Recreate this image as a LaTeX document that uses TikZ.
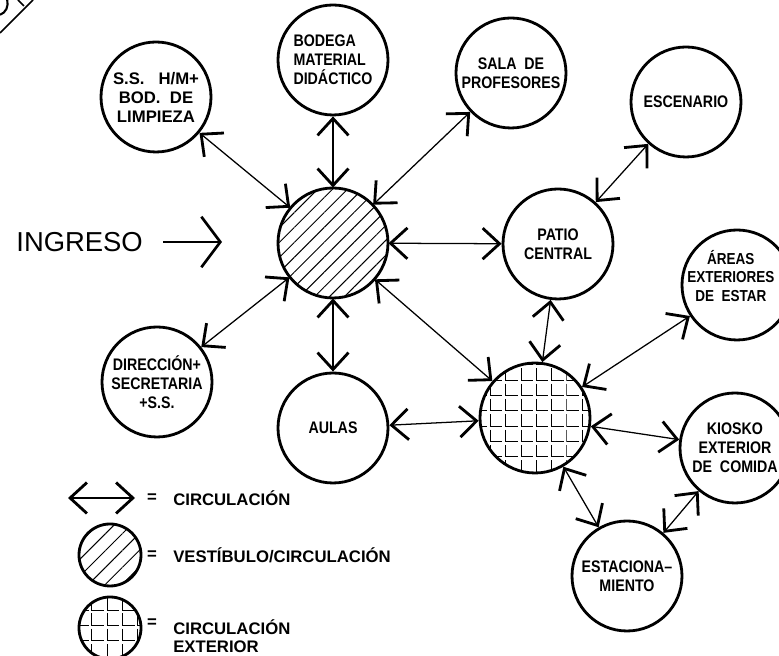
\documentclass[tikz,border=0pt]{standalone}
\usepackage{fontspec}
\setmainfont{Liberation Sans}
\newfontfamily\narrowsans[FakeStretch=0.85]{Liberation Sans}
\usetikzlibrary{arrows.meta, patterns.meta}

\tikzdeclarepattern{
  name=ell grid,
  type=uncolored,
  bottom left={(-0.5pt,-0.5pt)},
  top right={(10.4pt,10.4pt)},
  tile size={(10.9pt,10.9pt)},
  code={
    \path [draw, line width=0.7pt] (0pt,8.5pt) -- (0pt,0pt) -- (8.5pt,0pt);
  }
}

\tikzset{
  chev/.tip = {Straight Barb[length=12pt, width=22pt, line width=2pt]},
  bigchev/.tip = {Straight Barb[length=13.5pt, width=36pt, line width=1.9pt]},
  room/.style = {
    circle, draw=black, line width=2pt, minimum size=2.75cm,
    inner sep=0pt, align=center,
    font=\narrowsans\bfseries\fontsize{11.9}{13.5}\selectfont
  },
  lobby/.style = {
    room, pattern={Lines[angle=45, distance=7.5pt, line width=0.7pt]}
  },
  yard/.style = { room, pattern=ell grid },
  flow/.style = { draw=black, line width=0.9pt, arrows={chev-chev} },
  entry/.style = { draw=black, line width=0.9pt, arrows={-bigchev} },
  keysign/.style = { font=\bfseries\fontsize{11.9}{13}\selectfont, inner sep=0pt },
  keytext/.style = {
    anchor=west, align=left, inner sep=0pt,
    font=\bfseries\fontsize{11.9}{13}\selectfont
  }
}

\begin{document}
\begin{tikzpicture}

    \useasboundingbox (0,0) rectangle (19.475,16.4);

    % ---------------------------------------------------------------- Spaces
    \node [room, font=\bfseries\fontsize{11.9}{13.5}\selectfont] (ss) at (3.9, 13.975) {S.S.\ \ \ H/M+\\BOD.\ \ DE\\LIMPIEZA};
    \node [room, align=left] (bodega) at (8.325, 14.9) {BODEGA\\MATERIAL\\DIDÁCTICO};
    \node [room] (sala)      at (12.775, 14.575) {SALA\ \ DE\\PROFESORES};
    \node [room] (escenario) at (17.15,  13.85) {ESCENARIO};
    \node [room] (patio)     at (13.95,  10.3)  {PATIO\\CENTRAL};
    \node [room] (areas)     at (18.425, 9.275) {};
    \node [align=center, inner sep=0pt,
           font=\narrowsans\bfseries\fontsize{11.3}{13}\selectfont] (areas_txt) at (18.27, 9.5) {ÁREAS\\EXTERIORES\\DE\ \ ESTAR};
    \node [room] (direccion) at (3.925,  6.85)  {DIRECCIÓN+\\SECRETARIA\\+S.S.};
    \node [room] (aulas)     at (8.325,  5.7)   {AULAS};
    \node [room] (kiosko)    at (18.375, 5.2)   {KIOSKO\\EXTERIOR\\DE\ \ COMIDA};
    \node [room] (estac)     at (15.675, 2.0)   {ESTACIONA–\\MIENTO};

    % ------------------------------------------------------------ Circulation
    \node [lobby] (vest) at (8.325,  10.325) {};
    \node [yard]  (ext)  at (13.375, 5.95)   {};

    % --------------------------------------------------------------- Entrance
    \node [inner sep=0pt, font=\fontsize{19.5}{20}\selectfont] (ingreso) at (1.99, 10.35) {INGRESO};
    \coordinate (door) at (5.55, 10.35);
    \draw [entry, shorten <=0.5cm] (ingreso.east) -- (door);

    % -------------------------------------------------------------- Links
    \draw [flow] (vest) -- (ss);
    \draw [flow] (vest) -- (bodega);
    \draw [flow] (vest) -- (sala);
    \draw [flow] (vest) -- (patio);
    \draw [flow] (vest) -- (direccion);
    \draw [flow] (vest) -- (aulas);
    \draw [flow] (vest) -- (ext);
    \draw [flow] (patio) -- (escenario);
    \draw [flow] (patio) -- (ext);
    \draw [flow] (ext) -- (areas);
    \draw [flow] (ext) -- (aulas);
    \draw [flow] (ext) -- (kiosko);
    \draw [flow] (ext) -- (estac);
    \draw [flow] (kiosko) -- (estac);

    % ------------------------------------------------------------- Legend
    \coordinate (key_a) at (1.7,   3.95);
    \coordinate (key_b) at (3.375, 3.95);
    \draw [flow] (key_a) -- (key_b);
    \node [keysign] (eq_flow)  at (3.8, 3.95) {=};
    \node [keytext] (txt_flow) at (4.325, 3.95) {CIRCULACIÓN};

    \node [room, minimum size=1.55cm,
           pattern={Lines[angle=45, distance=8.5pt, line width=0.7pt]}] (key_lobby) at (2.75, 2.525) {};
    \node [keysign] (eq_lobby)  at (3.8, 2.525) {=};
    \node [keytext] (txt_lobby) at (4.325, 2.525) {VESTÍBULO/CIRCULACIÓN};

    \node [yard, minimum size=1.55cm] (key_yard) at (2.75, 0.7) {};
    \node [keysign] (eq_yard)  at (3.8, 0.825) {=};
    \node [keytext] (txt_yard) at (4.325, 0.5) {CIRCULACIÓN\\EXTERIOR};

    % ------------------------------------------------ Corner (cut off title)
    \draw [line width=1.2pt] (0, 15.575) -- (0.825, 16.4);
    \draw [line width=1.2pt] (0.45, 16.4) -- (0.6, 16.25);
    \draw [line width=1.5pt] (0, 16.03) .. controls (0.15, 16.08) and (0.22, 16.25) .. (0.18, 16.4);

\end{tikzpicture}
\end{document}
